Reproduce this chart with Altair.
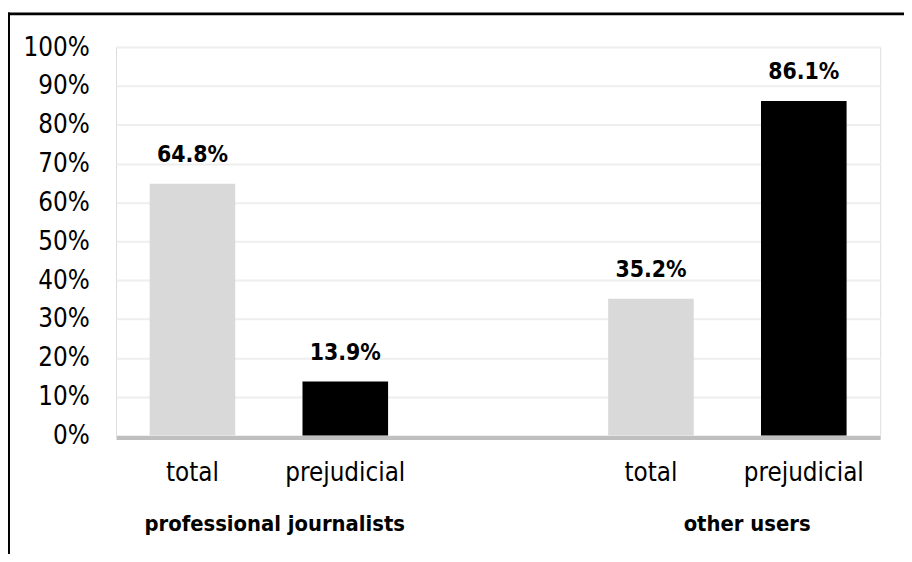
import altair as alt
import pandas as pd

groups = ["professional journalists", "professional journalists", "other users", "other users"]
kinds = ["total", "prejudicial", "total", "prejudicial"]
values = [0.648, 0.139, 0.352, 0.861]
colors = ["#d9d9d9", "#000000", "#d9d9d9", "#000000"]
group_labels = ["professional journalists", "other users"]

keys = [g + "|" + k for g, k in zip(groups, kinds)]
domain = keys[:2] + ["|"] + keys[2:]

df = pd.DataFrame({"key": keys, "group": groups, "kind": kinds, "value": values, "color": colors})

FONT = "DejaVu Sans Condensed, Liberation Sans, Arial, sans-serif"
REG = 26
BOLD = 22
W, H = 771, 392

xscale = alt.Scale(domain=domain, paddingInner=0.44, paddingOuter=0.22)
x = alt.X("key:N", scale=xscale, sort=domain,
          axis=alt.Axis(title=None, labelExpr="split(datum.value, '|')[1]", labelAngle=0,
                        ticks=False, tickSize=0, domainColor="#bfbfbf", domainWidth=4, offset=2,
                        labelPadding=22, labelFontSize=REG, labelFont=FONT, labelColor="#000000",
                        grid=False))
y = alt.Y("value:Q", scale=alt.Scale(domain=[0, 1]),
          axis=alt.Axis(title=None, format="%", tickCount=10, ticks=False, tickSize=0, domain=False,
                        labelPadding=27, labelFontSize=REG, labelFont=FONT, labelColor="#000000",
                        gridColor="#eeeeee", gridWidth=2))

bars = alt.Chart(df).mark_bar().encode(x=x, y=y, color=alt.Color("color:N", scale=None))
vals = alt.Chart(df).mark_text(baseline="bottom", dy=-17, font=FONT, fontSize=BOLD + 1, fontWeight="bold",
                               color="#000000").encode(x=x, y=y, text=alt.Text("value:Q", format=".1%"))

g1 = alt.Chart(pd.DataFrame({"key": [keys[0]], "label": [group_labels[0]]})).mark_text(
    baseline="alphabetic", dx=83, font=FONT, fontSize=BOLD, fontWeight="bold", color="#000000"
).encode(x=alt.X("key:N", scale=xscale, sort=domain), y=alt.value(H + 96), text="label:N")
g2 = alt.Chart(pd.DataFrame({"key": [keys[2]], "label": [group_labels[1]]})).mark_text(
    baseline="alphabetic", dx=97, font=FONT, fontSize=BOLD, fontWeight="bold", color="#000000"
).encode(x=alt.X("key:N", scale=xscale, sort=domain), y=alt.value(H + 96), text="label:N")

one = pd.DataFrame({"a": [0]})
top_rule = alt.Chart(one).mark_rule(color="#000000", strokeWidth=3).encode(
    x=alt.value(-110), x2=alt.value(W + 30), y=alt.value(-33.5))
left_rule = alt.Chart(one).mark_rule(color="#000000", strokeWidth=3).encode(
    x=alt.value(-108.5), y=alt.value(-35), y2=alt.value(H + 130))

chart = alt.layer(bars, vals, g1, g2, top_rule, left_rule).properties(
    width=W, height=H,
    autosize=alt.AutoSizeParams(type="none"),
    padding={"left": 109, "top": 37, "right": 24, "bottom": 117},
).configure_view(stroke=None).configure(background="#ffffff")

chart.save("out.html", embed_options={"renderer": "svg", "actions": False})
